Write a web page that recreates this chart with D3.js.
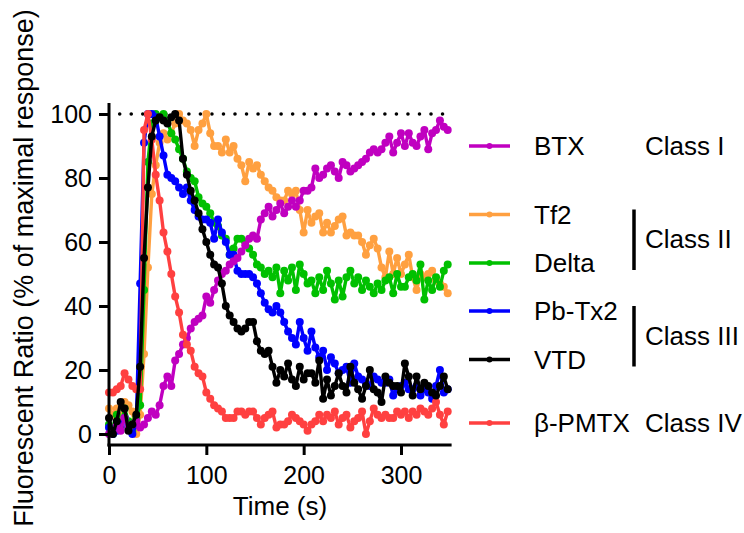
<!DOCTYPE html>
<html>
<head>
<meta charset="utf-8">
<script src="https://cdn.jsdelivr.net/npm/d3@7"></script>
<style>
  body { margin: 0; background: #fff; }
  svg { display: block; font-family: "Liberation Sans", Arial, sans-serif; }
</style>
</head>
<body>
<svg id="chart" width="744" height="533"></svg>
<script>
// sampling times (s)
const time = [0,4,8,12,16,20,24,28,32,36,
  40,44,48,52,56,60,64,68,72,76,
  80,84,88,92,96,100,104,108,112,116,
  120,124,128,132,136,140,144,148,152,156,
  160,164,168,172,176,180,184,188,192,196,
  200,204,208,212,216,220,224,228,232,236,
  240,244,248,252,256,260,264,268,272,276,
  280,284,288,292,296,300,304,308,312,316,
  320,324,328,332,336,340,344,348];

// % of maximal response
const btx = [0,1,3,1,5,2,3,4,2,3,
  5,7,6,9,15,18,15,23,25,28,
  30,33,35,36,37,43,41,45,48,50,
  51,53,54,55,57,59,61,62,61,67,
  69,71,68,70,72,69,71,73,71,73,
  76,76,77,83,80,81,83,84,82,80,
  85,84,82,83,84,85,86,88,89,88,
  89,91,93,88,91,94,90,94,91,90,
  93,95,89,94,95,98,96,95];
const tf2 = [8,6,8,5,10,9,7,0,6,25,
  52,75,84,91,94,92,94,97,100,98,
  97,95,90,95,97,100,94,90,90,88,
  92,88,90,86,84,79,85,83,84,81,
  79,77,76,74,73,73,76,75,76,70,
  63,70,66,68,69,63,66,63,65,67,
  68,62,63,62,62,60,56,59,61,58,
  52,49,57,50,55,50,53,56,49,45,
  50,49,50,51,48,47,46,44];
const delta = [3,0,6,2,8,4,1,5,9,45,
  85,97,100,99,100,98,94,92,89,86,
  82,80,79,74,72,71,69,66,65,62,
  61,56,58,61,61,60,58,56,53,52,
  50,51,49,52,44,51,48,52,45,53,
  50,47,48,44,49,45,51,47,42,48,
  43,49,51,47,49,45,48,46,44,47,
  45,48,49,44,50,46,46,49,50,48,
  53,42,48,45,49,46,51,53];
const pbtx2 = [2,0,1,3,5,2,0,3,47,91,
  100,100,99,93,87,81,80,79,77,75,
  77,73,70,68,67,67,66,61,67,63,
  60,56,56,51,50,50,50,49,47,44,
  41,39,38,40,38,35,32,30,28,35,
  30,26,32,27,24,26,20,24,22,19,
  20,21,16,22,18,17,16,15,18,17,
  16,16,17,12,14,15,16,14,14,15,
  12,14,13,11,15,20,13,14];
const vtd = [5,0,4,10,8,1,3,6,21,55,
  77,93,98,99,98,97,99,100,98,86,
  81,76,73,69,64,60,56,53,52,47,
  40,37,35,33,32,33,35,35,29,26,
  25,26,21,16,20,18,22,17,15,21,
  17,19,19,16,23,11,17,12,15,19,
  15,13,21,16,14,11,15,20,14,13,
  10,18,16,15,15,13,22,18,12,18,
  14,16,15,13,12,15,18,14];
const bpmtx = [13,13,14,15,19,17,15,14,14,95,
  100,92,81,73,63,57,50,43,38,31,
  28,26,21,19,18,13,11,9,8,7,
  5,5,5,7,7,6,7,7,5,3,
  5,6,7,2,3,3,4,6,5,4,
  3,1,3,4,6,4,6,5,7,3,
  5,6,2,4,5,7,0,4,8,6,
  5,6,5,5,7,6,7,5,7,6,
  8,7,6,8,10,6,3,7];

const seriesNames = ["BTX", "Tf2", "Delta", "Pb-Tx2", "VTD", "\u03B2-PMTX"];
const seriesValues = [btx, tf2, delta, pbtx2, vtd, bpmtx];
const seriesColors = ["#c000c0", "#ffa040", "#00c000", "#0000ff", "#000000", "#ff4040"];
const classLabels = ["Class I", "Class II", "Class III", "Class IV"];
const classMembers = [[0], [1, 2], [3, 4], [5]];
const xTicks = [0, 100, 200, 300];
const yTicks = [0, 20, 40, 60, 80, 100];
const maxLine = 100;

const svg = d3.select("#chart");
svg.append("rect").attr("width", 744).attr("height", 533).attr("fill", "#fff");

const x = d3.scaleLinear().domain([0, 352]).range([109, 451.6]);
const y = d3.scaleLinear().domain([0, 100]).range([434, 114]);
const yBottom = 445, yTop = 103;

// dotted 100% line
svg.append("line")
  .attr("x1", x(11)).attr("x2", x(344))
  .attr("y1", y(maxLine)).attr("y2", y(maxLine))
  .attr("stroke", "#000").attr("stroke-width", 3.6)
  .attr("stroke-linecap", "round")
  .attr("stroke-dasharray", "0 11.53");

// series, back to front
const drawOrder = [1, 2, 3, 0, 5, 4];
const line = d3.line().x((d, i) => x(time[i])).y(d => y(d));
drawOrder.forEach(k => {
  const g = svg.append("g");
  g.append("path")
    .attr("d", line(seriesValues[k]))
    .attr("fill", "none")
    .attr("stroke", seriesColors[k])
    .attr("stroke-width", 3.4)
    .attr("stroke-linejoin", "round");
  g.selectAll("circle").data(seriesValues[k]).join("circle")
    .attr("cx", (d, i) => x(time[i]))
    .attr("cy", d => y(d))
    .attr("r", 4)
    .attr("fill", seriesColors[k]);
});

// axes
const yAxis = svg.append("g")
  .attr("transform", "translate(109,0)")
  .call(d3.axisLeft(y).tickValues(yTicks).tickSize(10).tickPadding(7));
const xAxis = svg.append("g")
  .attr("transform", `translate(0,${yBottom})`)
  .call(d3.axisBottom(x).tickValues(xTicks).tickSize(10).tickPadding(11));
[yAxis, xAxis].forEach(a => {
  a.select(".domain").remove();
  a.selectAll(".tick line").attr("stroke", "#000").attr("stroke-width", 3);
  a.selectAll(".tick text").attr("fill", "#000")
    .style("font-size", "25px").style("font-family", "Liberation Sans, Arial, sans-serif");
});
svg.append("line").attr("x1", 109).attr("x2", 109).attr("y1", yTop).attr("y2", yBottom + 1.5)
  .attr("stroke", "#000").attr("stroke-width", 3);
svg.append("line").attr("x1", 107.5).attr("x2", 451.6).attr("y1", yBottom).attr("y2", yBottom)
  .attr("stroke", "#000").attr("stroke-width", 3);

// axis titles
svg.append("text")
  .attr("x", 280).attr("y", 515)
  .attr("text-anchor", "middle")
  .style("font-size", "26px")
  .text("Time (s)");
svg.append("text")
  .attr("transform", "translate(33,268) rotate(-90)")
  .attr("text-anchor", "middle")
  .style("font-size", "27px")
  .text("Fluorescent Ratio (% of maximal response)");

// legend
const legendY = [146, 214.5, 263, 311, 359.5, 423];
const legend = svg.append("g");
seriesNames.forEach((name, i) => {
  legend.append("line")
    .attr("x1", 469).attr("x2", 510)
    .attr("y1", legendY[i]).attr("y2", legendY[i])
    .attr("stroke", seriesColors[i]).attr("stroke-width", 3.5);
  legend.append("circle")
    .attr("cx", 489.5).attr("cy", legendY[i]).attr("r", 3)
    .attr("fill", seriesColors[i]);
  legend.append("text")
    .attr("x", 534).attr("y", legendY[i]).attr("dy", "0.36em")
    .style("font-size", "26px")
    .text(name);
});

// class brackets
classLabels.forEach((label, c) => {
  const members = classMembers[c];
  const top = legendY[members[0]], bot = legendY[members[members.length - 1]];
  if (members.length > 1) {
    legend.append("line")
      .attr("x1", 634).attr("x2", 634)
      .attr("y1", top - 5).attr("y2", bot + 7)
      .attr("stroke", "#000").attr("stroke-width", 3.5);
  }
  legend.append("text")
    .attr("x", 645).attr("y", (top + bot) / 2).attr("dy", "0.36em")
    .style("font-size", "26px")
    .text(label);
});
</script>
</body>
</html>
